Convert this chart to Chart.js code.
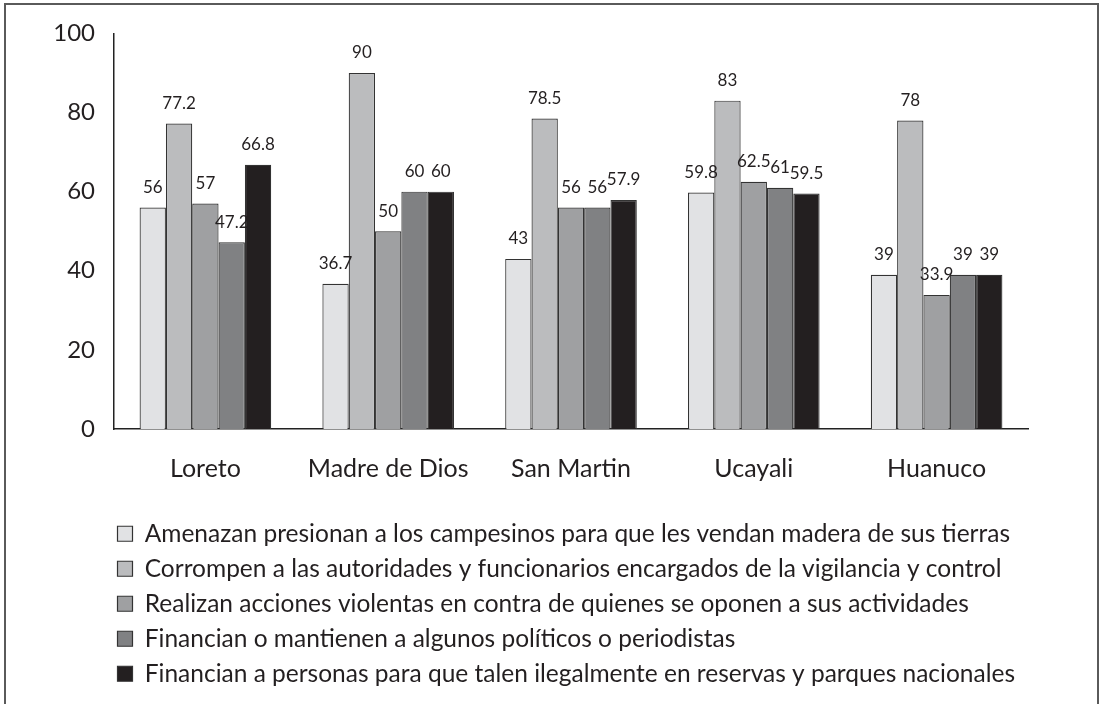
<!DOCTYPE html>
<html>
<head>
<meta charset="utf-8">
<script src="https://cdn.jsdelivr.net/npm/chart.js@4"></script>
<style>
  html, body { margin: 0; padding: 0; background: #fff; }
  #wrap { position: relative; width: 1101px; height: 704px; overflow: hidden; }
  #frame { position: absolute; left: 4px; top: 3px; width: 1091px; height: 720px; border: 2px solid #5a5a5a; }
  #chart { position: absolute; left: 0; top: 0; }
</style>
</head>
<body>
<div id="wrap">
  <div id="frame"></div>
  <canvas id="chart" width="1101" height="704"></canvas>
</div>
<script>
// categorias y series
const regiones = ['Loreto', 'Madre de Dios', 'San Martin', 'Ucayali', 'Huanuco'];
const amenazan = [56, 36.7, 43, 59.8, 39];
const corrompen = [77.2, 90, 78.5, 83, 78];
const violentas = [57, 50, 56, 62.5, 33.9];
const politicos = [47.2, 60, 56, 61, 39];
const talen = [66.8, 60, 57.9, 59.5, 39];
const yTicks = [0, 20, 40, 60, 80, 100];

const seriesNames = [
    'Amenazan presionan a los campesinos para que les vendan madera de sus tierras',
    'Corrompen a las autoridades y funcionarios encargados de la vigilancia y control',
    'Realizan acciones violentas en contra de quienes se oponen a sus actividades',
    'Financian o mantienen a algunos políticos o periodistas',
    'Financian a personas para que talen ilegalmente en reservas y parques nacionales'
];
const seriesColors = ['#e1e2e4', '#bbbcbe', '#9fa0a2', '#808183', '#231f20'];
const seriesData = [amenazan, corrompen, violentas, politicos, talen];

const FONT = "Lato, 'Open Sans', sans-serif";
const INK = '#231f20';

// etiquetas de valor encima de cada barra
const valueLabels = {
    id: 'valueLabels',
    afterDatasetsDraw(chart) {
        const ctx = chart.ctx;
        ctx.save();
        ctx.font = '17px ' + FONT;
        ctx.fillStyle = INK;
        ctx.textAlign = 'center';
        ctx.textBaseline = 'middle';
        chart.data.datasets.forEach((ds, i) => {
            const meta = chart.getDatasetMeta(i);
            meta.data.forEach((bar, j) => {
                ctx.fillText(String(ds.data[j]), bar.x, bar.y - 20);
            });
        });
        ctx.restore();
    }
};

// mover la leyenda un poco a la izquierda
const legendShift = {
    id: 'legendShift',
    afterLayout(chart) {
        const lg = chart.legend;
        if (!lg) return;
        lg.left -= 7;
        lg.right -= 7;
    }
};

new Chart(document.getElementById('chart').getContext('2d'), {
    type: 'bar',
    data: {
        labels: regiones,
        datasets: seriesData.map((d, i) => ({
            label: seriesNames[i],
            data: d,
            backgroundColor: seriesColors[i],
            borderColor: '#333333',
            borderWidth: 1.2,
            categoryPercentage: 0.72,
            barPercentage: 1.0
        }))
    },
    options: {
        responsive: false,
        animation: false,
        layout: { padding: { left: 0, right: 73, top: 29, bottom: 8 } },
        plugins: {
            tooltip: { enabled: false },
            legend: {
                position: 'bottom',
                align: 'start',
                fullSize: false,
                labels: {
                    font: { family: FONT, size: 24.5 },
                    color: INK,
                    boxWidth: 15,
                    boxHeight: 15,
                    padding: 10.5
                }
            }
        },
        scales: {
            x: {
                grid: { display: false, drawTicks: false },
                border: { display: true, color: '#222', width: 1.5 },
                ticks: { font: { family: FONT, size: 25 }, color: INK, padding: 25 },
                afterFit(s) { s.height = 82; }
            },
            y: {
                min: 0,
                max: 100,
                grid: { display: false, drawTicks: false },
                border: { display: true, color: '#222', width: 1.5 },
                afterBuildTicks(s) { s.ticks = yTicks.map(v => ({ value: v })); },
                ticks: { font: { family: FONT, size: 24 }, color: INK, padding: 19 },
                afterFit(s) { s.width = 114; }
            }
        }
    },
    plugins: [valueLabels, legendShift]
});
</script>
</body>
</html>
